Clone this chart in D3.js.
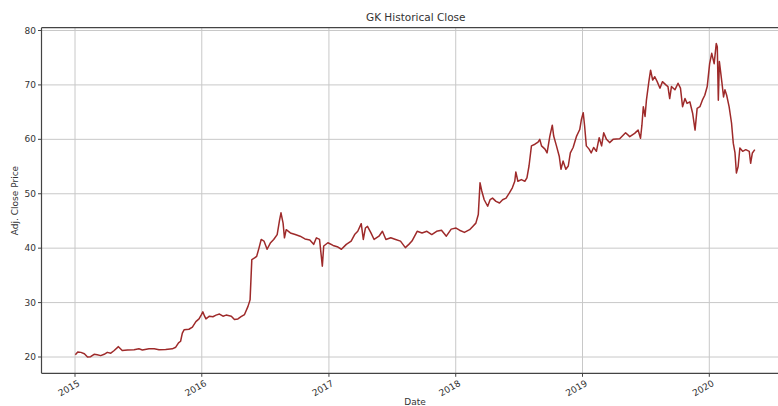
<!DOCTYPE html>
<html>
<head>
<meta charset="utf-8">
<script src="https://cdn.jsdelivr.net/npm/d3@7"></script>
<style>
  body { margin: 0; background: #fff; }
  svg { display: block; font-family: 'DejaVu Sans', sans-serif; }
</style>
</head>
<body>
<div id="chart"></div>
<script>
(function () {
  'use strict';

  var dates = [
    '2015-01-02', '2015-01-09', '2015-01-18', '2015-01-28', '2015-02-06', '2015-02-15', '2015-02-25',
    '2015-03-06', '2015-03-16', '2015-03-26', '2015-04-04', '2015-04-14', '2015-04-23', '2015-05-06',
    '2015-05-17', '2015-06-01', '2015-06-20', '2015-07-04', '2015-07-14', '2015-08-02', '2015-08-17',
    '2015-08-31', '2015-09-19', '2015-10-08', '2015-10-18', '2015-10-26', '2015-11-01', '2015-11-06',
    '2015-11-11', '2015-11-25', '2015-12-05', '2015-12-15', '2015-12-24', '2015-12-31', '2016-01-04',
    '2016-01-09', '2016-01-13', '2016-01-23', '2016-02-02', '2016-02-11', '2016-02-21', '2016-03-02',
    '2016-03-11', '2016-03-26', '2016-04-04', '2016-04-14', '2016-04-23', '2016-05-03', '2016-05-13',
    '2016-05-19', '2016-05-24', '2016-06-01', '2016-06-07', '2016-06-14', '2016-06-20', '2016-06-28',
    '2016-07-07', '2016-07-17', '2016-07-26', '2016-08-05', '2016-08-12', '2016-08-16', '2016-08-22',
    '2016-08-26', '2016-08-31', '2016-09-12', '2016-09-26', '2016-10-10', '2016-10-24', '2016-11-07',
    '2016-11-18', '2016-11-26', '2016-12-05', '2016-12-13', '2016-12-17', '2016-12-29', '2017-01-13',
    '2017-01-27', '2017-02-06', '2017-02-20', '2017-03-06', '2017-03-16', '2017-03-25', '2017-04-04',
    '2017-04-10', '2017-04-16', '2017-04-22', '2017-05-02', '2017-05-11', '2017-05-25', '2017-06-04',
    '2017-06-14', '2017-06-28', '2017-07-12', '2017-07-26', '2017-08-09', '2017-08-19', '2017-08-28',
    '2017-09-12', '2017-09-26', '2017-10-10', '2017-10-24', '2017-11-07', '2017-11-21', '2017-12-05',
    '2017-12-19', '2018-01-02', '2018-01-12', '2018-01-26', '2018-02-10', '2018-02-19', '2018-02-28',
    '2018-03-07', '2018-03-12', '2018-03-17', '2018-03-24', '2018-04-03', '2018-04-10', '2018-04-17',
    '2018-04-27', '2018-05-07', '2018-05-16', '2018-05-26', '2018-06-05', '2018-06-13', '2018-06-20',
    '2018-06-23', '2018-06-29', '2018-07-09', '2018-07-19', '2018-07-25', '2018-07-31', '2018-08-07',
    '2018-08-17', '2018-08-26', '2018-08-31', '2018-09-05', '2018-09-15', '2018-09-21', '2018-09-29',
    '2018-10-06', '2018-10-10', '2018-10-18', '2018-10-26', '2018-10-31', '2018-11-06', '2018-11-14',
    '2018-11-21', '2018-11-27', '2018-12-05', '2018-12-15', '2018-12-24', '2018-12-29', '2019-01-03',
    '2019-01-07', '2019-01-12', '2019-01-20', '2019-01-26', '2019-02-02', '2019-02-10', '2019-02-18',
    '2019-02-25', '2019-03-03', '2019-03-11', '2019-03-20', '2019-03-30', '2019-04-18', '2019-05-05',
    '2019-05-17', '2019-05-31', '2019-06-10', '2019-06-17', '2019-06-21', '2019-06-25', '2019-06-30',
    '2019-07-04', '2019-07-11', '2019-07-16', '2019-07-22', '2019-07-28', '2019-08-04', '2019-08-12',
    '2019-08-19', '2019-08-29', '2019-09-04', '2019-09-09', '2019-09-14', '2019-09-24', '2019-10-03',
    '2019-10-10', '2019-10-16', '2019-10-23', '2019-10-29', '2019-11-06', '2019-11-14', '2019-11-21',
    '2019-11-27', '2019-12-05', '2019-12-12', '2019-12-19', '2019-12-26', '2020-01-02', '2020-01-08',
    '2020-01-15', '2020-01-21', '2020-01-24', '2020-01-27', '2020-01-30', '2020-02-06', '2020-02-11',
    '2020-02-15', '2020-02-20', '2020-02-27', '2020-03-05', '2020-03-10', '2020-03-15', '2020-03-19',
    '2020-03-24', '2020-03-29', '2020-04-06', '2020-04-15', '2020-04-25', '2020-04-29', '2020-05-04',
    '2020-05-11'
  ];

  var closes = [
    20.4, 20.9, 20.85, 20.6, 20.0, 20.05, 20.5,
    20.4, 20.25, 20.5, 20.85, 20.7, 21.15, 21.9,
    21.2, 21.3, 21.35, 21.5, 21.3, 21.5, 21.5,
    21.35, 21.4, 21.5, 21.8, 22.6, 22.9, 24.4,
    25.0, 25.1, 25.5, 26.5, 27.0, 27.8, 28.3,
    27.5, 27.0, 27.5, 27.4, 27.7, 27.9, 27.5,
    27.7, 27.5, 26.9, 27.0, 27.4, 27.8, 29.3,
    30.5, 37.9, 38.2, 38.5, 40.1, 41.6, 41.3,
    39.8, 41.0, 41.6, 42.5, 45.2, 46.5, 44.6,
    41.9, 43.4, 42.8, 42.5, 42.2, 41.7, 41.5,
    40.7, 41.9, 41.6, 36.7, 40.4, 41.0, 40.5,
    40.2, 39.8, 40.7, 41.3, 42.5, 43.1, 44.5,
    41.6, 43.7, 44.0, 42.8, 41.6, 42.2, 43.1,
    41.6, 41.9, 41.6, 41.3, 40.1, 40.7, 41.3,
    43.1, 42.8, 43.1, 42.5, 43.1, 43.3, 42.2,
    43.5, 43.7, 43.3, 42.9, 43.4, 44.0, 44.6,
    46.2, 52.0, 50.5, 48.9, 47.7, 48.9, 49.2,
    48.6, 48.3, 48.9, 49.2, 50.2, 51.1, 52.3,
    54.0, 52.3, 52.6, 52.3, 52.9, 55.1, 58.8,
    59.1, 59.5, 60.0, 58.8, 58.2, 57.5, 60.6,
    62.6, 60.6, 58.8, 56.9, 54.5, 56.0, 54.5,
    55.1, 57.5, 58.5, 60.6, 61.8, 63.7, 64.9,
    62.5, 58.8, 58.2, 57.5, 58.5, 57.8, 60.3,
    58.8, 61.2, 60.0, 59.4, 60.0, 60.1, 61.2,
    60.5, 61.1, 61.7, 60.2, 62.6, 66.0, 64.2,
    67.2, 70.6, 72.7, 70.9, 71.5, 70.6, 69.4,
    70.6, 70.0, 69.7, 67.5, 69.7, 69.1, 70.3,
    69.4, 66.0, 67.5, 66.6, 66.9, 64.8, 61.7,
    65.7, 66.0, 67.2, 68.1, 69.7, 73.9, 75.8,
    73.9, 77.6, 77.0, 67.2, 74.3, 70.6, 67.8,
    69.1, 68.1, 66.0, 63.0, 59.3, 57.5, 53.8,
    55.0, 58.4, 57.8, 58.1, 57.8, 55.6, 57.5,
    58.1
  ];

  var yTicks = [20, 30, 40, 50, 60, 70, 80];
  var xTickYears = [2015, 2016, 2017, 2018, 2019, 2020];

  var width = 778;
  var height = 406;
  var plot = { left: 41.5, top: 27.7, right: 790, bottom: 373.3 };

  var parse = d3.timeParse('%Y-%m-%d');
  var series = dates.map(function (d, i) { return { date: parse(d), value: closes[i] }; });

  var x = d3.scaleTime()
    .domain([new Date(2015, 0, 1), new Date(2020, 0, 1)])
    .range([75, 709.3]);
  var y = d3.scaleLinear()
    .domain([20, 80])
    .range([357, 30.5]);

  var svg = d3.select('#chart').append('svg')
    .attr('width', width)
    .attr('height', height);

  svg.append('text')
    .attr('x', (plot.left + plot.right) / 2)
    .attr('y', 21)
    .attr('text-anchor', 'middle')
    .attr('font-size', '10.5px')
    .attr('fill', '#333')
    .text('GK Historical Close');

  var grid = svg.append('g');
  yTicks.forEach(function (t) {
    grid.append('line')
      .attr('x1', plot.left).attr('x2', plot.right)
      .attr('y1', y(t)).attr('y2', y(t))
      .attr('stroke', '#c8c8c8').attr('stroke-width', 1);
  });
  xTickYears.forEach(function (yr) {
    var px = x(new Date(yr, 0, 1));
    grid.append('line')
      .attr('x1', px).attr('x2', px)
      .attr('y1', plot.top).attr('y2', plot.bottom)
      .attr('stroke', '#c8c8c8').attr('stroke-width', 1);
  });

  var line = d3.line()
    .x(function (d) { return x(d.date); })
    .y(function (d) { return y(d.value); });

  svg.append('path')
    .datum(series)
    .attr('d', line)
    .attr('fill', 'none')
    .attr('stroke', '#9e2a2a')
    .attr('stroke-width', 1.5)
    .attr('stroke-linejoin', 'round');

  // spines
  var spine = '#444';
  svg.append('line').attr('x1', plot.left).attr('x2', plot.left)
    .attr('y1', plot.top).attr('y2', plot.bottom).attr('stroke', spine).attr('stroke-width', 1.2);
  svg.append('line').attr('x1', plot.left).attr('x2', plot.right)
    .attr('y1', plot.bottom).attr('y2', plot.bottom).attr('stroke', spine).attr('stroke-width', 1.2);
  svg.append('line').attr('x1', plot.left).attr('x2', plot.right)
    .attr('y1', plot.top).attr('y2', plot.top).attr('stroke', spine).attr('stroke-width', 1.2);

  // y ticks
  yTicks.forEach(function (t) {
    svg.append('line')
      .attr('x1', plot.left - 3.5).attr('x2', plot.left)
      .attr('y1', y(t)).attr('y2', y(t))
      .attr('stroke', spine);
    svg.append('text')
      .attr('x', plot.left - 5.5)
      .attr('y', y(t))
      .attr('dy', '0.35em')
      .attr('text-anchor', 'end')
      .attr('font-size', '9px')
      .attr('fill', '#333')
      .text(t);
  });

  // x ticks
  xTickYears.forEach(function (yr) {
    var px = x(new Date(yr, 0, 1));
    svg.append('line')
      .attr('x1', px).attr('x2', px)
      .attr('y1', plot.bottom).attr('y2', plot.bottom + 3.5)
      .attr('stroke', spine);
    svg.append('text')
      .attr('transform', 'translate(' + (px + 2) + ',' + (plot.bottom + 6) + ') rotate(-30)')
      .attr('dy', '0.75em')
      .attr('text-anchor', 'end')
      .attr('font-size', '9px')
      .attr('fill', '#333')
      .text(yr);
  });

  svg.append('text')
    .attr('transform', 'translate(18,' + ((plot.top + plot.bottom) / 2) + ') rotate(-90)')
    .attr('text-anchor', 'middle')
    .attr('font-size', '9px')
    .attr('fill', '#333')
    .text('Adj. Close Price');

  svg.append('text')
    .attr('x', 415)
    .attr('y', 404.5)
    .attr('text-anchor', 'middle')
    .attr('font-size', '9px')
    .attr('fill', '#333')
    .text('Date');
})();
</script>
</body>
</html>
